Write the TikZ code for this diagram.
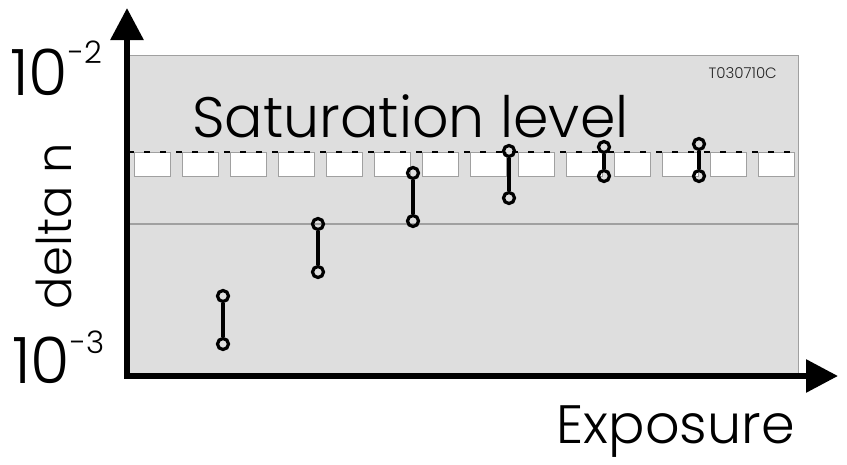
\documentclass[tikz,border=0pt]{standalone}
\usepackage{fontspec}
\setmainfont{Poppins}[UprightFont={* Light}]
\usetikzlibrary{arrows.meta, positioning}
\definecolor{panelgray}{RGB}{222,222,222}
\definecolor{framegray}{RGB}{160,160,160}

\begin{document}
\begin{tikzpicture}[x=1pt,y=-1pt,
    satbox/.style={draw=framegray,fill=white,line width=0.8pt,minimum width=36pt,minimum height=24pt,inner sep=0pt},
    meas/.style={draw,circle,line width=3.2pt,minimum size=11pt,inner sep=0pt},
    bar/.style={line width=3.2pt}]
    \useasboundingbox (0,0) rectangle (847,464);

    % panel
    \fill[panelgray] (128,55) rectangle (798,376);
    \draw[framegray,line width=1pt] (128,376) |- (798,55) -- (798,376);
    \node[anchor=base east,font=\fontsize{15}{15}\selectfont,black!85,inner sep=0pt] (code) at (777,78) {T030710C};

    % middle level line
    \draw[framegray,line width=1.6pt] (128,224) -- (798,224);

    % saturation boxes
    \foreach \i in {0,...,13}
        \node[satbox,anchor=north west] (box\i) at ({134+48*\i},152) {};
    \draw[black,line width=1.6pt,dash pattern=on 6pt off 10pt] (128,152) -- (798,152);
    \node[anchor=base west,font=\fontsize{57}{57}\selectfont,inner sep=0pt] (sat) at (192,137) {Saturation level};

    % measurements
    \node[meas] (m1a) at (223,296) {};
    \node[meas] (m1b) at (223,344) {};
    \node[meas] (m2a) at (318,224) {};
    \node[meas] (m2b) at (318,272) {};
    \node[meas] (m3a) at (413,173) {};
    \node[meas] (m3b) at (413,221) {};
    \node[meas] (m4a) at (509,151) {};
    \node[meas] (m4b) at (509,198) {};
    \node[meas] (m5a) at (604,147) {};
    \node[meas] (m5b) at (604,176) {};
    \node[meas] (m6a) at (699,144) {};
    \node[meas] (m6b) at (699,176) {};
    \foreach \k in {1,...,6}
        \draw[bar] (m\k a) -- (m\k b);

    % axes
    \coordinate (origin) at (127,376);
    \coordinate (ytip) at (127,8);
    \coordinate (xtip) at (838,376);
    \draw[line width=6pt,-{Triangle[length=32pt,width=32pt]}] ([yshift=3pt]origin) -- (ytip);
    \draw[line width=6pt,-{Triangle[length=32pt,width=32pt]}] ([xshift=-3pt]origin) -- (xtip);

    % labels
    \node[anchor=base west,font=\fontsize{64}{64}\selectfont,inner sep=0pt] (ymax) at (10,95) {10\raisebox{32pt}{\fontsize{31}{31}\selectfont -2}};
    \node[anchor=base west,font=\fontsize{64}{64}\selectfont,inner sep=0pt] (ymin) at (12,383) {10\raisebox{30pt}{\fontsize{31}{31}\selectfont -3}};
    \node[rotate=90,anchor=base,font=\fontsize{48}{48}\selectfont,inner sep=0pt] (ylab) at (71,226) {delta n};
    \node[anchor=base east,font=\fontsize{54}{54}\selectfont,inner sep=0pt] (xlab) at (795,443) {Exposure};
\end{tikzpicture}
\end{document}
